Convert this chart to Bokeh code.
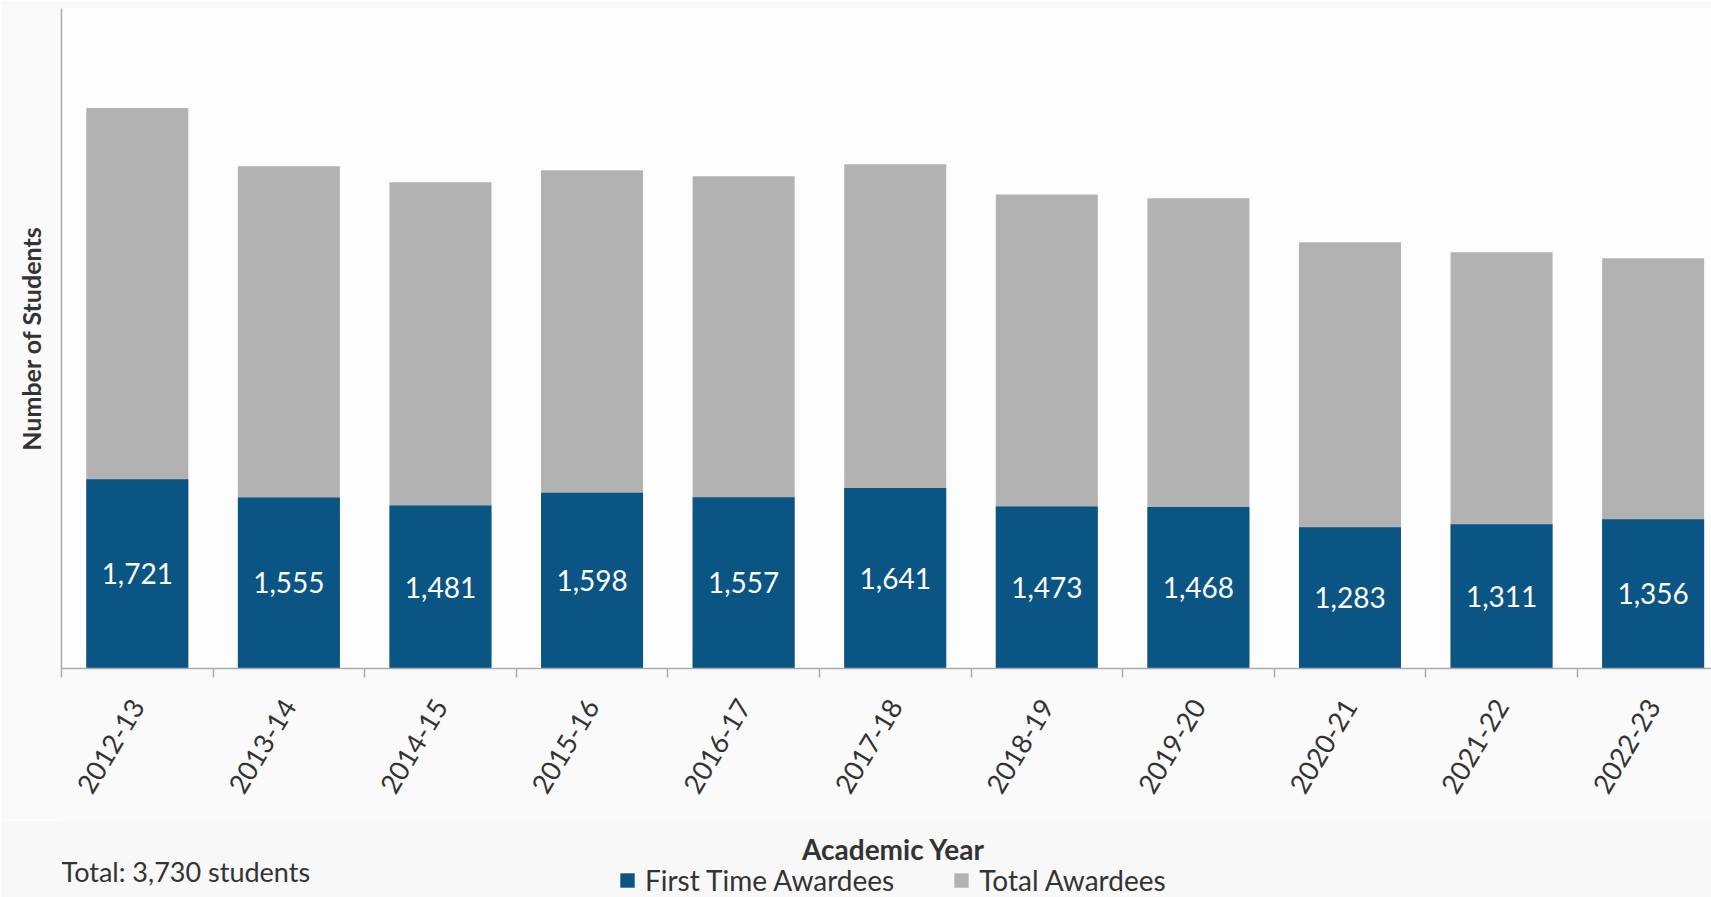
from bokeh.plotting import figure
from bokeh.layouts import column
from bokeh.models import (Range1d, FixedTicker, Label, Legend, LegendItem,
                          ColumnDataSource)
from bokeh.core.properties import value
from bokeh.embed import file_html
from bokeh.resources import INLINE

years = ["2012-13", "2013-14", "2014-15", "2015-16", "2016-17", "2017-18",
         "2018-19", "2019-20", "2020-21", "2021-22", "2022-23"]
first_time = [1721, 1555, 1481, 1598, 1557, 1641, 1473, 1468, 1283, 1311, 1356]
total = [5095, 4565, 4420, 4530, 4475, 4585, 4310, 4275, 3875, 3785, 3730]

BLUE = "#0B5585"
GRAY = "#B2B2B2"
TEXT = "#333333"
AXIS = "#ABABAB"
FONT = "Lato"

idx = list(range(len(years)))
src = ColumnDataSource(dict(
    x=idx,
    first=first_time,
    total=total,
    mid=[v / 2 for v in first_time],
    lbl=[f"{v:,}" for v in first_time],
))

# ---------------- main chart ----------------
p = figure(width=1711, height=820, output_backend="svg", toolbar_location=None,
           title=None,
           x_range=Range1d(-0.5, 10.385), y_range=Range1d(0, 6000),
           min_border_left=61, min_border_right=0, min_border_top=8,
           min_border_bottom=152)
p.background_fill_color = "#fdfdfd"
p.border_fill_color = "#fafafa"
p.outline_line_color = None
p.grid.visible = False

r_total = p.vbar(x="x", top="total", width=0.673, source=src,
                 fill_color=GRAY, line_color=None)
r_first = p.vbar(x="x", top="first", width=0.673, source=src,
                 fill_color=BLUE, line_color=None)
p.text(x="x", y="mid", text="lbl", source=src, text_color="white",
       text_font=value(FONT), text_font_size="28px",
       text_align="center", text_baseline="middle")

xa = p.xaxis[0]
xa.ticker = FixedTicker(ticks=idx,
                        minor_ticks=[i - 0.5 for i in idx] + [idx[-1] + 0.5])
xa.major_label_overrides = {i: y for i, y in zip(idx, years)}
xa.major_label_orientation = 1.03
xa.major_label_text_font = FONT
xa.major_label_text_font_size = "27px"
xa.major_label_text_color = TEXT
xa.major_label_standoff = 24
xa.major_tick_line_color = None
xa.major_tick_out = 0
xa.major_tick_in = 0
xa.minor_tick_line_color = AXIS
xa.minor_tick_line_width = 1.5
xa.minor_tick_out = 9
xa.minor_tick_in = 0
xa.axis_line_color = AXIS
xa.axis_line_width = 1.5

ya = p.yaxis[0]
ya.ticker = FixedTicker(ticks=[])
ya.axis_label = "Number of Students"
ya.axis_label_text_font = FONT
ya.axis_label_text_font_size = "25px"
ya.axis_label_text_font_style = "bold"
ya.axis_label_text_color = TEXT
ya.axis_label_standoff = 16
ya.major_label_standoff = 0
ya.major_tick_line_color = None
ya.major_tick_out = 0
ya.minor_tick_line_color = None
ya.axis_line_color = AXIS
ya.axis_line_width = 1.5

# ---------------- footer strip: axis title, note, legend ----------------
# the column aligns this frame with the chart frame (page x 61..1711)
p2 = figure(width=1711, height=77, output_backend="svg", toolbar_location=None,
            title=None, x_range=Range1d(61, 1711), y_range=Range1d(0, 77),
            x_axis_type=None, y_axis_type=None,
            min_border_left=61, min_border_right=0, min_border_top=0,
            min_border_bottom=0)
p2.background_fill_color = "#f8f8f8"
p2.border_fill_color = "#f8f8f8"
p2.outline_line_color = None
p2.grid.visible = False

p2.add_layout(Label(x=893, y=49, text="Academic Year", text_font=FONT,
                    text_font_size="28px", text_font_style="bold",
                    text_color=TEXT, text_align="center",
                    text_baseline="alphabetic"))
p2.add_layout(Label(x=61, y=26, text="Total: 3,730 students", text_font=FONT,
                    text_font_size="27px", text_color=TEXT,
                    text_align="left", text_baseline="alphabetic"))

# legend proxies: zero-size bars carrying the same styles as the chart bars
k_first = p2.vbar(x=[0], top=[0], width=0, fill_color=BLUE, line_color=None)
k_total = p2.vbar(x=[0], top=[0], width=0, fill_color=GRAY, line_color=None)
legend = Legend(items=[LegendItem(label="First Time Awardees", renderers=[k_first]),
                       LegendItem(label="Total Awardees", renderers=[k_total])],
                orientation="horizontal", location=(557, 0),
                glyph_width=18, glyph_height=18, label_standoff=9, spacing=58,
                padding=0, margin=0, border_line_color=None,
                background_fill_alpha=0, label_text_font=FONT,
                label_text_font_size="28px", label_text_color=TEXT)
p2.add_layout(legend, "center")

layout = column(p, p2, spacing=0)
open("out.html", "w").write(file_html(layout, INLINE))
